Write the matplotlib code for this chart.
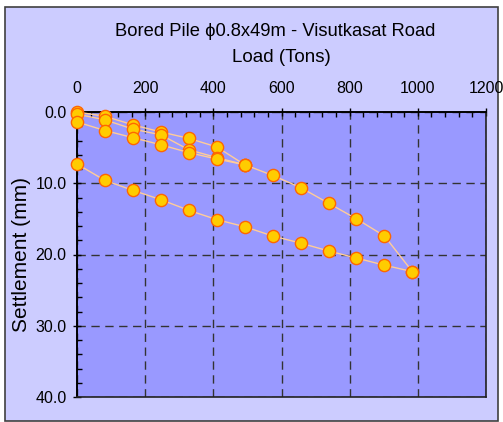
import matplotlib
matplotlib.use("Agg")
import matplotlib.pyplot as plt
from matplotlib.patches import Rectangle
from matplotlib.ticker import MultipleLocator, FormatStrFormatter

plt.rcParams['font.family'] = ['Liberation Sans', 'DejaVu Sans']

# ---- data (load in tons, settlement in mm) ----
cycle1_load = [0, 82, 164, 246, 328, 410, 492]
cycle1_settle = [0.0, 0.6, 1.8, 2.8, 3.7, 4.9, 7.4]

cycle2_load = [0, 82, 164, 246, 328, 410, 492]
cycle2_settle = [0.3, 1.1, 2.4, 3.2, 5.3, 6.4, 7.4]

cycle3_load = [0, 82, 164, 246, 328, 410, 492, 574, 656, 738, 820, 902, 984]
cycle3_settle = [1.4, 2.6, 3.6, 4.6, 5.7, 6.6, 7.4, 8.9, 10.6, 12.8, 15.0, 17.4, 22.4]

unload_load = [984, 902, 820, 738, 656, 574, 492, 410, 328, 246, 164, 82, 0]
unload_settle = [22.4, 21.5, 20.5, 19.5, 18.4, 17.4, 16.1, 15.1, 13.8, 12.3, 11.0, 9.6, 7.3]

x_ticks = [0, 200, 400, 600, 800, 1000, 1200]
y_ticks = [0.0, 10.0, 20.0, 30.0, 40.0]

W, H = 503, 422
fig = plt.figure(figsize=(W / 100, H / 100), dpi=100)
fig.patch.set_facecolor('white')

# chart area background with border
bg = Rectangle((5 / W, 1 - 421 / H), 493 / W, 414 / H, transform=fig.transFigure,
               facecolor='#CCCCFF', edgecolor='#404040', linewidth=1.2, zorder=-10)
fig.patches.append(bg)

ax = fig.add_axes([77 / W, 1 - 397 / H, 409 / W, 285 / H])
ax.set_zorder(1)
ax.set_facecolor('#9999FF')

series = [(cycle1_load, cycle1_settle), (cycle2_load, cycle2_settle),
          (cycle3_load, cycle3_settle), (unload_load, unload_settle)]
for lx, ly in series:
    ax.plot(lx, ly, color='#FFCC99', linewidth=1.0, marker='o', markersize=8.8,
            markerfacecolor='#FFCC00', markeredgecolor='#FF6600', markeredgewidth=1.0,
            clip_on=False, zorder=3)

ax.set_xlim(0, 1200)
ax.set_ylim(40, 0)
ax.xaxis.tick_top()
ax.set_xticks(x_ticks)
ax.set_yticks(y_ticks)
ax.xaxis.set_minor_locator(MultipleLocator(40))
ax.yaxis.set_minor_locator(MultipleLocator(2))
ax.yaxis.set_major_formatter(FormatStrFormatter('%.1f'))

ax.tick_params(axis='both', which='major', direction='inout', length=6, width=1.0,
               color='black', labelsize=11.5)
ax.tick_params(axis='x', which='major', pad=8.5)
ax.tick_params(axis='y', which='major', pad=4.5)
ax.tick_params(axis='both', which='minor', direction='in', length=3.5, width=1.0, color='black')

for s in ['left', 'top']:
    ax.spines[s].set_linewidth(1.4)
    ax.spines[s].set_color('black')
for s in ['right', 'bottom']:
    ax.spines[s].set_linewidth(1.2)
    ax.spines[s].set_color('#222222')

ax.grid(True, which='major', color='#333333', linestyle=(0, (6, 4)), linewidth=1.0)
ax.set_axisbelow(True)

ax.set_ylabel('Settlement (mm)', fontsize=15, labelpad=3)

fig.text(281.5 / W, 1 - 57 / H, 'Load (Tons)', fontsize=13.5, ha='center', va='center')
fig.text(275.5 / W, 1 - 32 / H, 'Bored Pile \u03d50.8x49m - Visutkasat Road', fontsize=13.2,
         ha='center', va='center')

fig.savefig('out.png', dpi=100, facecolor=fig.get_facecolor())
